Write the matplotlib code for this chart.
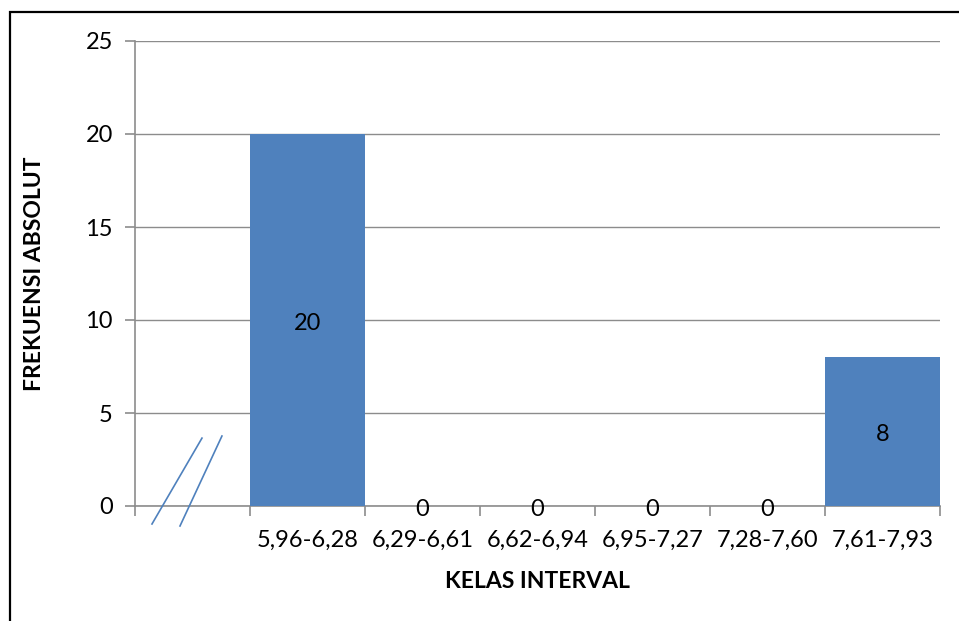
import matplotlib
matplotlib.use("Agg")
import matplotlib.pyplot as plt
from matplotlib.patches import Rectangle
from matplotlib.transforms import offset_copy
import numpy as np

categories = ["", "5,96-6,28", "6,29-6,61", "6,62-6,94", "6,95-7,27", "7,28-7,60", "7,61-7,93"]
frequencies = [None, 20, 0, 0, 0, 0, 8]
y_ticks = [0, 5, 10, 15, 20, 25]

bar_color = "#4F81BD"
grid_color = "#8C8C8C"
plt.rcParams["font.family"] = ["Lato", "DejaVu Sans"]
FS = 17

fig = plt.figure(figsize=(9.59, 6.21), dpi=100)
W, H = 959, 621
left, right, top, bottom = 135, 940, 41, 506
ax = fig.add_axes([left / W, 1 - bottom / H, (right - left) / W, (bottom - top) / H])

# outer chart frame
fig.patches.append(Rectangle((10 / W, -0.1), 1.1, 1 - 12 / H + 0.1, transform=fig.transFigure,
                             fill=False, edgecolor="black", linewidth=1.6))

x = np.arange(len(categories))
vals = [v if v is not None else 0 for v in frequencies]
ax.bar(x[1:], vals[1:], width=1.0, color=bar_color, zorder=3)

label_tr = offset_copy(ax.transData, fig=fig, x=0, y=-3, units="dots")
for xi, v in zip(x[1:], vals[1:]):
    ax.text(xi, v / 2, str(v), ha="center", va="center", fontsize=FS, color="black",
            zorder=4, transform=label_tr)

ax.set_xlim(-0.5, len(categories) - 0.5)
ax.set_ylim(0, 25)
ax.set_yticks(y_ticks)
ax.yaxis.grid(True, color=grid_color, linewidth=1.0, zorder=0)
ax.set_axisbelow(True)

ax.set_xticks(np.arange(len(categories) + 1) - 0.5)
ax.set_xticklabels([])
ax.set_xticks(x, minor=True)
ax.set_xticklabels(categories, minor=True, fontsize=FS)
ax.tick_params(axis="x", which="minor", length=0, pad=17)
ax.tick_params(axis="x", which="major", length=7, color=grid_color, width=1.2)
ax.tick_params(axis="y", length=7, color=grid_color, width=1.2, labelsize=FS, pad=9)

for s in ["top", "right"]:
    ax.spines[s].set_visible(False)
for s in ["left", "bottom"]:
    ax.spines[s].set_color(grid_color)
    ax.spines[s].set_linewidth(1.2)

# axis-break marks
for (x0, y0, x1, y1) in [(0.0211, -0.0387, 0.0832, 0.146), (0.0559, -0.043, 0.108, 0.1505)]:
    ax.plot([x0, x1], [y0, y1], transform=ax.transAxes, color=bar_color, linewidth=1.2,
            clip_on=False, zorder=5)

fig.text(537 / W, 1 - 582 / H, "KELAS INTERVAL", ha="center", va="center",
         fontsize=16.5, fontweight="bold")
fig.text(35 / W, 1 - 274 / H, "FREKUENSI ABSOLUT", ha="center", va="center",
         rotation=90, fontsize=16.5, fontweight="bold")

fig.savefig("out.png", dpi=100)
